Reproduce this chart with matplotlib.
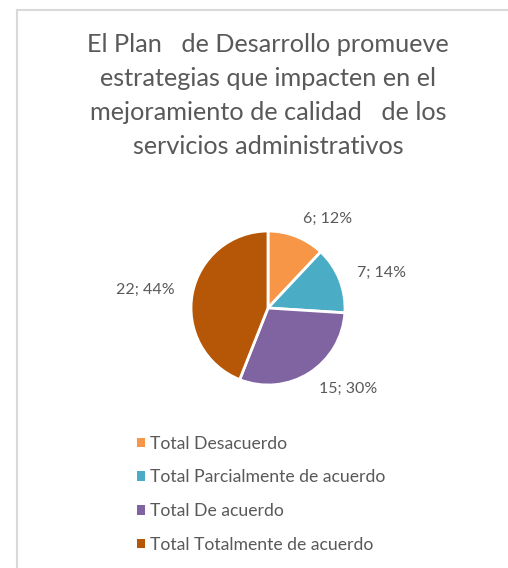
import matplotlib
matplotlib.use('Agg')
import matplotlib.pyplot as plt
from matplotlib.patches import Patch
from matplotlib.lines import Line2D

# data
categories = ['Total Desacuerdo', 'Total Parcialmente de acuerdo',
              'Total De acuerdo', 'Total Totalmente de acuerdo']
counts = [6, 7, 15, 22]
percents = [12, 14, 30, 44]
colors = ['#F79646', '#4BACC6', '#8064A2', '#B65708']
title = ('El Plan   de Desarrollo promueve\nestrategias que impacten en el\n'
         'mejoramiento de calidad   de los\nservicios administrativos')

plt.rcParams['font.family'] = ['Lato', 'DejaVu Sans']
text_color = '#595959'

W, H = 508, 568
fig = plt.figure(figsize=(W / 100, H / 100), dpi=100)

# chart frame (only top and left edges visible)
fig.add_artist(Line2D([17 / W, 1], [1 - 10 / H, 1 - 10 / H], color='#D9D9D9', lw=1.5))
fig.add_artist(Line2D([17 / W, 17 / W], [0, 1 - 10 / H], color='#D9D9D9', lw=1.5))

fig.text(268 / W, 1 - 33 / H, title, ha='center', va='top', fontsize=18.2,
         color=text_color, linespacing=1.58)

# pie
cx, cy, r = 268, 308, 77
ax = fig.add_axes([(cx - r) / W, 1 - (cy + r) / H, 2 * r / W, 2 * r / H])
labels = ['%d; %d%%' % (c, p) for c, p in zip(counts, percents)]
wedges, texts = ax.pie(counts, colors=colors, startangle=90, counterclock=False,
                       labels=labels, labeldistance=1.24,
                       wedgeprops=dict(edgecolor='white', linewidth=2),
                       textprops=dict(fontsize=11.5, color=text_color))
ax.set_xlim(-1, 1)
ax.set_ylim(-1, 1)
ax.set_aspect('equal')

handles = [Patch(facecolor=c, edgecolor='none') for c in colors]
fig.legend(handles, categories, loc='upper left', bbox_to_anchor=(128 / W, 1 - 427 / H),
           frameon=False, fontsize=12.7, labelcolor=text_color,
           handlelength=0.45, handleheight=0.45, handletextpad=0.3,
           labelspacing=1.0, borderpad=0)

fig.savefig('out.png', dpi=100, facecolor='white')
